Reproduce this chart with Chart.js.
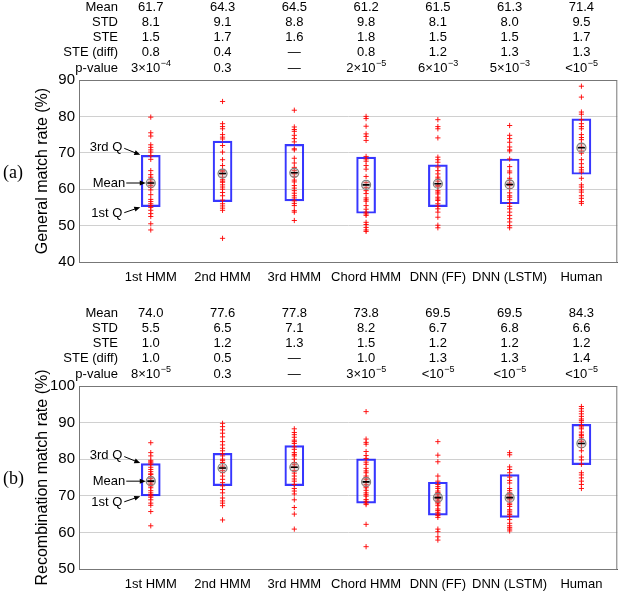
<!DOCTYPE html>
<html lang="en">
<head>
<meta charset="UTF-8">
<title>Match rates</title>
<script src="https://cdn.jsdelivr.net/npm/chart.js"></script>
<style>
    body { margin: 0; background: #fff; }
    #wrap { position: relative; width: 623px; height: 595px; }
    canvas { position: absolute; left: 0; }
</style>
</head>
<body>
<div id="wrap">
    <canvas id="chartA" width="623" height="306" style="top:0"></canvas>
    <canvas id="chartB" width="623" height="289" style="top:306px"></canvas>
</div>
<script>
const categories = ['1st HMM', '2nd HMM', '3rd HMM', 'Chord HMM', 'DNN (FF)', 'DNN (LSTM)', 'Human'];
const rowNames = ['Mean', 'STD', 'STE', 'STE (diff)', 'p-value'];

// (a) general match rate
const generalMean = [61.7, 64.3, 64.5, 61.2, 61.5, 61.3, 71.4];
const generalStd = ['8.1', '9.1', '8.8', '9.8', '8.1', '8.0', '9.5'];
const generalSte = ['1.5', '1.7', '1.6', '1.8', '1.5', '1.5', '1.7'];
const generalSteDiff = ['0.8', '0.4', '—', '0.8', '1.2', '1.3', '1.3'];
const generalP = ['3×10^−4', '0.3', '—', '2×10^−5', '6×10^−3', '5×10^−3', '<10^−5'];
const generalQ1 = [55.2, 56.6, 56.8, 53.4, 55.2, 56.0, 64.1];
const generalQ3 = [69.3, 73.2, 72.3, 68.8, 66.7, 68.3, 79.3];
const generalPts = [
    [79.8, 75.5, 74.6, 72.2, 71.5, 70.8, 70.2, 69.2, 68.2, 65.1, 64.0, 63.3, 62.6, 62.0, 61.5, 61.0, 60.5, 59.8, 58.5, 57.2, 56.6, 56.0, 55.5, 55.0, 54.2, 53.3, 52.5, 50.5, 48.8],
    [84.1, 78.0, 77.2, 76.6, 75.0, 74.3, 73.8, 72.0, 70.2, 68.1, 66.5, 65.1, 64.8, 64.2, 63.3, 62.6, 62.2, 61.9, 61.2, 60.6, 60.0, 59.1, 58.2, 57.0, 56.0, 55.4, 54.8, 54.2, 46.5],
    [81.7, 77.1, 76.4, 75.9, 74.8, 73.9, 73.0, 71.1, 70.8, 68.5, 67.2, 66.0, 65.1, 64.2, 63.4, 62.5, 62.0, 61.0, 60.3, 59.6, 58.9, 58.2, 57.6, 56.8, 56.1, 55.5, 54.1, 53.7, 51.4],
    [80.0, 79.4, 77.3, 75.2, 74.5, 73.4, 69.0, 68.3, 67.7, 66.5, 65.5, 63.5, 61.8, 60.5, 59.6, 58.8, 57.6, 57.1, 56.7, 55.5, 54.5, 53.7, 53.2, 52.8, 50.9, 50.3, 49.5, 48.8, 48.4],
    [79.1, 77.2, 76.6, 74.1, 68.8, 68.1, 67.4, 66.1, 65.1, 64.2, 63.3, 62.8, 62.2, 61.5, 61.0, 60.8, 59.6, 59.2, 58.7, 57.8, 57.3, 56.9, 56.0, 55.3, 54.6, 53.7, 52.3, 50.1, 49.4],
    [77.5, 74.8, 73.9, 72.9, 71.6, 70.8, 70.5, 68.3, 66.2, 65.0, 64.5, 63.0, 62.4, 61.7, 61.0, 60.2, 59.0, 58.2, 57.8, 57.1, 56.1, 55.3, 54.6, 53.7, 52.8, 51.9, 51.0, 50.0, 49.4],
    [88.3, 85.3, 81.2, 80.6, 79.1, 78.0, 77.2, 76.6, 75.0, 74.2, 73.6, 72.5, 71.6, 70.5, 69.9, 68.1, 67.0, 66.0, 65.3, 64.7, 63.0, 61.2, 60.6, 59.8, 59.2, 58.2, 57.5, 56.6, 56.1]
];

// (b) recombination match rate
const recombMean = [74.0, 77.6, 77.8, 73.8, 69.5, 69.5, 84.3];
const recombStd = ['5.5', '6.5', '7.1', '8.2', '6.7', '6.8', '6.6'];
const recombSte = ['1.0', '1.2', '1.3', '1.5', '1.2', '1.2', '1.2'];
const recombSteDiff = ['1.0', '0.5', '—', '1.0', '1.3', '1.3', '1.4'];
const recombP = ['8×10^−5', '0.3', '—', '3×10^−5', '<10^−5', '<10^−5', '<10^−5'];
const recombQ1 = [70.0, 72.8, 72.8, 68.0, 64.7, 64.1, 78.5];
const recombQ3 = [78.8, 81.6, 83.7, 80.1, 73.7, 75.8, 89.5];
const recombPts = [
    [84.5, 81.8, 80.9, 79.7, 79.3, 79.0, 78.6, 77.8, 77.2, 76.6, 76.0, 75.8, 75.2, 74.7, 74.0, 73.5, 73.1, 72.7, 72.2, 71.4, 70.8, 70.3, 70.0, 69.6, 68.9, 68.0, 67.4, 65.7, 61.8],
    [89.8, 88.9, 88.0, 87.1, 86.1, 84.8, 83.9, 83.0, 82.3, 81.5, 80.9, 80.0, 79.6, 79.1, 78.1, 77.5, 76.9, 76.3, 75.4, 74.5, 73.6, 72.7, 71.7, 70.8, 69.4, 68.6, 68.0, 67.3, 63.4],
    [88.3, 87.3, 86.7, 86.0, 85.2, 84.8, 84.3, 83.4, 82.7, 81.8, 81.3, 80.9, 80.0, 79.1, 78.5, 77.9, 76.9, 76.2, 75.4, 74.6, 74.0, 73.1, 72.0, 71.3, 70.5, 68.9, 66.8, 65.0, 60.9],
    [93.0, 85.5, 84.6, 84.1, 82.1, 81.0, 80.2, 79.2, 78.6, 77.5, 76.8, 76.3, 75.4, 74.9, 74.5, 73.8, 73.1, 72.6, 72.2, 71.5, 70.8, 70.3, 69.9, 69.0, 68.5, 68.0, 67.6, 62.2, 56.1],
    [84.8, 81.1, 79.3, 75.4, 74.0, 73.1, 72.5, 72.0, 71.3, 70.9, 70.4, 69.9, 69.5, 69.2, 68.8, 68.5, 68.2, 67.8, 67.3, 66.4, 66.0, 65.5, 65.0, 64.6, 64.1, 60.9, 60.2, 58.8, 57.9],
    [81.8, 81.2, 77.9, 77.2, 76.3, 75.1, 74.2, 73.5, 72.0, 71.4, 70.8, 70.3, 69.9, 69.4, 68.9, 68.0, 67.6, 67.1, 66.2, 65.8, 65.3, 64.9, 64.4, 63.5, 62.5, 61.8, 61.3, 60.9, 60.4],
    [94.4, 93.8, 93.1, 92.4, 91.7, 91.0, 90.6, 90.1, 89.2, 88.8, 88.3, 87.4, 86.8, 86.5, 86.0, 85.3, 84.8, 84.3, 83.2, 82.3, 80.6, 79.8, 78.6, 76.3, 75.7, 74.9, 74.0, 73.1, 72.0]
];

const FONT = '"Liberation Sans", Arial, sans-serif';
Chart.defaults.font.family = FONT;
Chart.defaults.color = '#000';

// text with an optional superscript after '^', centred at cx
function drawSupText(ctx, str, cx, y) {
    const parts = str.split('^');
    ctx.font = '13px ' + FONT;
    const wb = ctx.measureText(parts[0]).width;
    let ws = 0;
    if (parts[1]) {
        ctx.font = '9px ' + FONT;
        ws = ctx.measureText(parts[1]).width;
    }
    const x0 = cx - (wb + ws) / 2;
    ctx.textAlign = 'left';
    ctx.font = '13px ' + FONT;
    ctx.fillText(parts[0], x0, y);
    if (parts[1]) {
        ctx.font = '9px ' + FONT;
        ctx.fillText(parts[1], x0 + wb + 0.5, y - 5);
    }
}

function arrow(ctx, x1, y1, x2, y2) {
    const a = Math.atan2(y2 - y1, x2 - x1);
    ctx.beginPath();
    ctx.moveTo(x1, y1);
    ctx.lineTo(x2 - 4 * Math.cos(a), y2 - 4 * Math.sin(a));
    ctx.stroke();
    ctx.beginPath();
    ctx.moveTo(x2, y2);
    ctx.lineTo(x2 - 6 * Math.cos(a) + 2.5 * Math.sin(a), y2 - 6 * Math.sin(a) - 2.5 * Math.cos(a));
    ctx.lineTo(x2 - 6 * Math.cos(a) - 2.5 * Math.sin(a), y2 - 6 * Math.sin(a) + 2.5 * Math.cos(a));
    ctx.closePath();
    ctx.fill();
}

function makeDecor(p) {
    return {
        id: 'decor',
        afterDraw(chart) {
            const ctx = chart.ctx;
            const area = chart.chartArea;
            const xs = chart.scales.x, ys = chart.scales.y;
            ctx.save();
            // frame
            ctx.strokeStyle = '#777';
            ctx.lineWidth = 1;
            ctx.strokeRect(area.left + 0.5, area.top + 0.5, area.right - area.left - 1, area.bottom - area.top);
            // stats table
            ctx.fillStyle = '#000';
            ctx.textBaseline = 'middle';
            const rows = [p.mean.map(v => v.toFixed(1)), p.std, p.ste, p.steDiff, p.pval];
            rows.forEach((row, r) => {
                const y = area.top - 73 + r * 15.3;
                ctx.font = '13px ' + FONT;
                ctx.textAlign = 'right';
                ctx.fillText(rowNames[r], 118, y);
                row.forEach((s, i) => drawSupText(ctx, s, xs.getPixelForValue(i + 1), y));
            });
            // y title and panel tag
            const cy = (area.top + area.bottom) / 2;
            ctx.save();
            ctx.translate(43, cy);
            ctx.rotate(-Math.PI / 2);
            ctx.textAlign = 'center';
            ctx.font = '16px ' + FONT;
            ctx.fillText(p.title, 0, 0);
            ctx.restore();
            ctx.textAlign = 'left';
            ctx.font = '18px "Liberation Serif", "Times New Roman", serif';
            ctx.fillText(p.tag, 3, cy + 2);
            // annotation for the first box
            const bar = chart.getDatasetMeta(3).data[0];
            const bx = xs.getPixelForValue(1) - bar.width / 2;
            const yq3 = ys.getPixelForValue(p.q3[0]);
            const yq1 = ys.getPixelForValue(p.q1[0]);
            const ym = ys.getPixelForValue(p.mean[0]);
            ctx.font = '13px ' + FONT;
            ctx.textAlign = 'right';
            ctx.strokeStyle = '#000';
            ctx.lineWidth = 1;
            ctx.fillText('3rd Q', bx - 19, yq3 - 8);
            arrow(ctx, bx - 17, yq3 - 7, bx - 1, yq3 - 0.5);
            ctx.fillText('Mean', bx - 16, ym);
            arrow(ctx, bx - 15, ym, xs.getPixelForValue(1) - 5, ym);
            ctx.fillText('1st Q', bx - 19, yq1 + 7);
            arrow(ctx, bx - 17, yq1 + 6, bx - 1, yq1 + 0.5);
            ctx.restore();
        }
    };
}

function makeChart(id, p, yMin, yMax, padBottom) {
    const pts = [];
    p.pts.forEach((list, i) => list.forEach(v => pts.push({ x: i + 1, y: v })));
    new Chart(document.getElementById(id), {
        type: 'scatter',
        data: {
            datasets: [
                {
                    label: 'mean line',
                    data: p.mean.map((v, i) => ({ x: i + 1, y: v })),
                    pointStyle: 'line',
                    radius: 3.5,
                    borderColor: '#000',
                    borderWidth: 1.6
                },
                {
                    label: 'mean',
                    data: p.mean.map((v, i) => ({ x: i + 1, y: v })),
                    pointStyle: 'circle',
                    radius: 4.5,
                    borderColor: '#808080',
                    backgroundColor: 'rgba(170,170,170,0.35)',
                    borderWidth: 1.2
                },
                {
                    label: 'runs',
                    data: pts,
                    pointStyle: 'cross',
                    radius: 2.6,
                    borderColor: 'rgba(255,0,0,0.9)',
                    borderWidth: 1
                },
                {
                    type: 'bar',
                    label: 'quartiles',
                    data: p.q1.map((v, i) => ({ x: i + 1, y: [v, p.q3[i]] })),
                    backgroundColor: 'rgba(0,0,0,0)',
                    borderColor: 'rgba(20,20,255,0.85)',
                    borderWidth: 1.5,
                    borderSkipped: false,
                    barThickness: 19
                }
            ]
        },
        options: {
            responsive: false,
            devicePixelRatio: 1,
            animation: false,
            layout: { padding: { top: 80, right: 2, bottom: padBottom, left: 0 } },
            plugins: { legend: { display: false }, tooltip: { enabled: false } },
            scales: {
                x: {
                    type: 'linear',
                    min: 0,
                    max: 7.5,
                    offset: false,
                    grid: { display: false, offset: false, drawTicks: false },
                    border: { display: true, color: '#555' },
                    ticks: {
                        stepSize: 1,
                        includeBounds: false,
                        autoSkip: false,
                        maxRotation: 0,
                        minRotation: 0,
                        padding: 8,
                        font: { size: 13 },
                        callback: v => categories[v - 1] || ''
                    },
                    afterFit: s => { s.height = 26; }
                },
                y: {
                    min: yMin,
                    max: yMax,
                    grid: { color: '#d0d0d0', drawTicks: false },
                    border: { display: true, color: '#555' },
                    ticks: { stepSize: 10, padding: 4, font: { size: 15 } },
                    afterFit: s => { s.width = 79; }
                }
            }
        },
        plugins: [makeDecor(p)]
    });
}

makeChart('chartA', {
    tag: '(a)', title: 'General match rate (%)',
    mean: generalMean, std: generalStd, ste: generalSte, steDiff: generalSteDiff, pval: generalP,
    q1: generalQ1, q3: generalQ3, pts: generalPts
}, 40, 90, 18);

makeChart('chartB', {
    tag: '(b)', title: 'Recombination match rate (%)',
    mean: recombMean, std: recombStd, ste: recombSte, steDiff: recombSteDiff, pval: recombP,
    q1: recombQ1, q3: recombQ3, pts: recombPts
}, 50, 100, 0);
</script>
</body>
</html>
